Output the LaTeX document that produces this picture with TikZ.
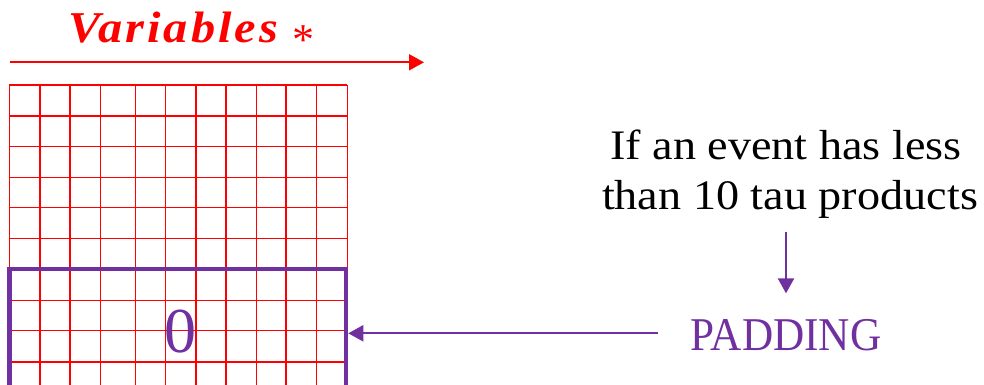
\documentclass[tikz,border=0pt]{standalone}
\usepackage{fontspec}
\setmainfont{Liberation Serif}
\newfontfamily\titlefont[FakeStretch=1.1,LetterSpace=7]{Liberation Serif}
\newfontfamily\notefont[FakeStretch=1.1]{Liberation Serif}
\newfontfamily\padfont[FakeStretch=0.92]{Liberation Serif}
\usetikzlibrary{arrows.meta}
\definecolor{myred}{RGB}{255,0,0}
\definecolor{mypurple}{RGB}{112,48,160}
\tikzset{
  gridline/.style={draw=myred, line width=1.5pt},
  redarrow/.style={draw=myred, line width=2pt, -{Triangle[length=15pt,width=16pt]}},
  purplearrow/.style={draw=mypurple, line width=2pt, -{Triangle[length=15pt,width=16pt]}},
  padbox/.style={draw=mypurple, line width=4.5pt, rectangle, inner sep=0pt, text=mypurple, font=\fontsize{64}{70}\selectfont},
  notetext/.style={inner sep=0pt, anchor=base, font=\notefont\fontsize{42}{50}\selectfont},
}
\begin{document}
\begin{tikzpicture}[x=1pt,y=-1pt]
\useasboundingbox (0,0) rectangle (984,384);
\begin{scope}
\clip (0,0) rectangle (984,384);
% grid
\foreach \gx in {9.3,40,70,100.7,135.3,165.7,196,226,256.3,286,316.7,347.3}
  \draw[gridline] (\gx,85) -- (\gx,400);
\foreach \gy in {85,116,146.7,177.3,207.3,238.7,269.3,300.7,330.7,362,392}
  \draw[gridline] (9.3,\gy) -- (347.3,\gy);
% padding box
\node[padbox, minimum width=336.3pt, minimum height=128.2pt] (zero) at (177.85,333.3) {\hspace{6pt}\raisebox{4pt}{0}};
\end{scope}
% title
\node[inner sep=0pt, anchor=base west, text=myred, font=\titlefont\fontsize{44}{50}\selectfont] (title) at (68,42.7)
  {\bfseries\itshape Variables\hspace{14pt}{\normalfont\raisebox{-12pt}{*}}};
\coordinate (a0) at (10,62.3);
\coordinate (a1) at (424,62.3);
\draw[redarrow] (a0) -- (a1);
% note
\node[notetext] (t1) at (786,159) {If an event has less};
\node[notetext] (t2) at (790,209) {than 10 tau products};
\node[inner sep=0pt, inner xsep=33pt, anchor=base, text=mypurple, font=\padfont\fontsize{47}{50}\selectfont] (pad) at (786,350.7) {PADDING};
\draw[purplearrow, shorten <=14pt, shorten >=26pt] (pad.north |- t2.south) -- (pad.north);
\draw[purplearrow] (pad.west |- zero.east) -- (zero.east);
\end{tikzpicture}
\end{document}
